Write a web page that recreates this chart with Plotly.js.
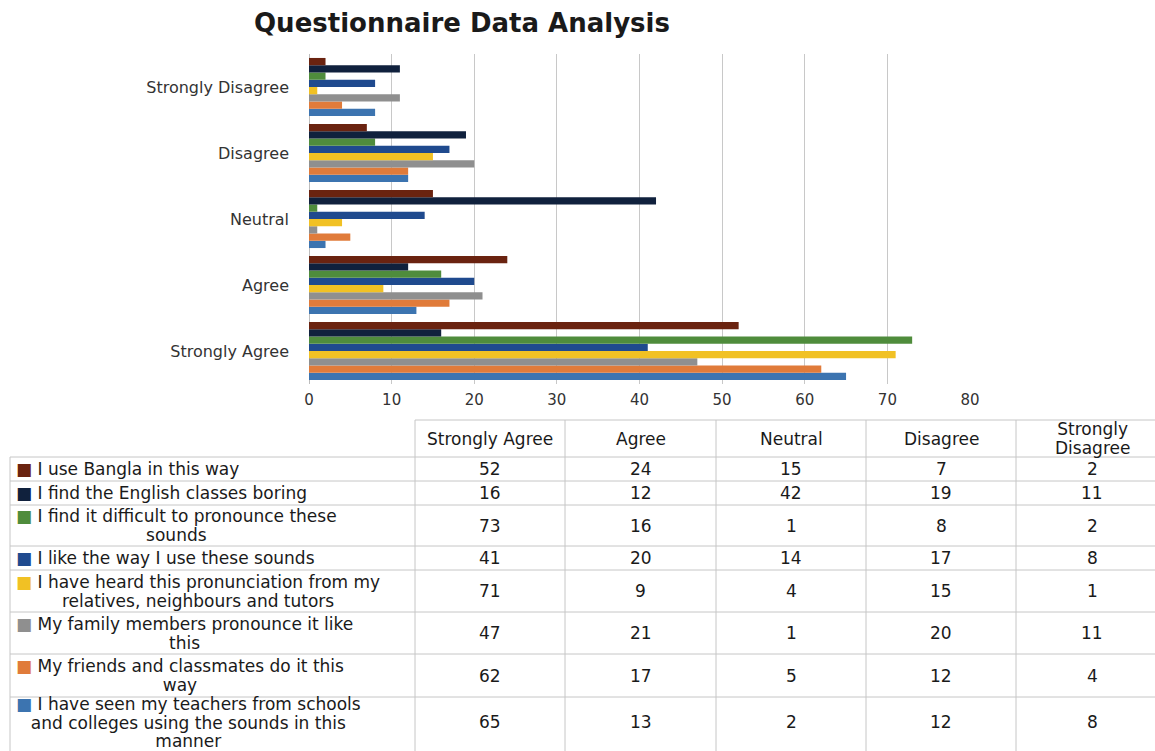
<!DOCTYPE html>
<html>
<head>
<meta charset="utf-8">
<script src="https://cdn.plot.ly/plotly-3.0.1.min.js"></script>
<style>html,body{margin:0;padding:0;background:#fff;}#chart{width:1155px;height:751px;}</style>
</head>
<body>
<div id="chart"></div>
<script>
// ---- data ----
const categories = ["Strongly Agree", "Agree", "Neutral", "Disagree", "Strongly Disagree"];
const seriesNames = [
  "I use Bangla in this way",
  "I find the English classes boring",
  "I find it difficult to pronounce these<br>sounds",
  "I like the way I use these sounds",
  "I have heard this pronunciation from my<br>relatives, neighbours and tutors",
  "My family members pronounce it like<br>this",
  "My friends and classmates do it this<br>way",
  "I have seen my teachers from schools<br>and colleges using the sounds in this<br>manner"
];
const useBangla      = [52, 24, 15, 7, 2];
const englishBoring  = [16, 12, 42, 19, 11];
const difficult      = [73, 16, 1, 8, 2];
const likeWay        = [41, 20, 14, 17, 8];
const heardRelatives = [71, 9, 4, 15, 1];
const familyMembers  = [47, 21, 1, 20, 11];
const friendsMates   = [62, 17, 5, 12, 4];
const teachersSeen   = [65, 13, 2, 12, 8];
const xTicks = [0, 10, 20, 30, 40, 50, 60, 70, 80];

// ---- styling ----
const seriesValues = [useBangla, englishBoring, difficult, likeWay, heardRelatives, familyMembers, friendsMates, teachersSeen];
const seriesColors = ["#6a2310", "#10213d", "#4f8c3c", "#1f4a8e", "#f1c124", "#8f8f8f", "#e07b3a", "#3c74b0"];
const FONT = "DejaVu Sans";
const TSIZE = 17;               // glyph size in table
const LINEFONT = {family: FONT, size: 14.4, color: "#1a1a1a"};  // sets tighter line spacing
const W = 1155, H = 751;
const px = x => x / W;
const py = y => 1 - y / H;
const big = t => t.split("<br>").map(l => '<span style="font-size:' + TSIZE + 'px">' + l + '</span>').join("<br>");

// bars: first trace sits at the bottom of each group, so add in reverse
const traces = [];
for (let i = seriesValues.length - 1; i >= 0; i--) {
  traces.push({
    type: "bar",
    orientation: "h",
    name: seriesNames[i].replace(/<br>/g, " "),
    y: categories,
    x: seriesValues[i],
    marker: {color: seriesColors[i], line: {width: 0}},
    showlegend: false,
    hoverinfo: "x+name"
  });
}

// ---- data table under the chart (shapes + annotations) ----
const colEdges = [10, 415, 565, 716, 866, 1016, 1168];
const headerTop = 420;
const rowEdges = [457, 481, 505, 546, 570, 612, 654, 697, 747];
const lineColor = "#c6c6c6";
const shapes = [];
const annotations = [];
// horizontal lines
shapes.push({type: "line", xref: "paper", yref: "paper", x0: px(colEdges[1]), x1: px(colEdges[6]), y0: py(headerTop), y1: py(headerTop), line: {color: lineColor, width: 1}});
rowEdges.slice(0, -1).forEach(r => shapes.push({type: "line", xref: "paper", yref: "paper", x0: px(colEdges[0]), x1: px(colEdges[6]), y0: py(r), y1: py(r), line: {color: lineColor, width: 1}}));
// vertical lines
shapes.push({type: "line", xref: "paper", yref: "paper", x0: px(colEdges[0]), x1: px(colEdges[0]), y0: py(rowEdges[0]), y1: py(H + 20), line: {color: lineColor, width: 1}});
for (let c = 1; c < colEdges.length; c++) {
  shapes.push({type: "line", xref: "paper", yref: "paper", x0: px(colEdges[c]), x1: px(colEdges[c]), y0: py(headerTop), y1: py(H + 20), line: {color: lineColor, width: 1}});
}
// header
const headerLabels = categories.map(c => c === "Strongly Disagree" ? "Strongly<br>Disagree" : c);
headerLabels.forEach((h, c) => {
  annotations.push({xref: "paper", yref: "paper", x: px((colEdges[c + 1] + colEdges[c + 2]) / 2), y: py((headerTop + rowEdges[0]) / 2),
    text: big(h), showarrow: false, xanchor: "center", yanchor: "middle", align: "center",
    font: LINEFONT});
});
// rows
seriesNames.forEach((name, r) => {
  const yc = (rowEdges[r] + rowEdges[r + 1]) / 2;
  const lines = name.split("<br>");
  lines[0] = '<span style="color:' + seriesColors[r] + '">■</span> ' + lines[0];
  annotations.push({xref: "paper", yref: "paper", x: px(colEdges[0] + 4), y: py(yc),
    text: big(lines.join("<br>")),
    showarrow: false, xanchor: "left", yanchor: "middle", align: "center",
    font: LINEFONT});
  seriesValues[r].forEach((v, c) => {
    annotations.push({xref: "paper", yref: "paper", x: px((colEdges[c + 1] + colEdges[c + 2]) / 2), y: py(yc),
      text: big(String(v)), showarrow: false, xanchor: "center", yanchor: "middle",
      font: LINEFONT});
  });
});

const layout = {
  width: W, height: H,
  margin: {l: 0, r: 0, t: 0, b: 0},
  paper_bgcolor: "#ffffff",
  plot_bgcolor: "#ffffff",
  title: {text: "Questionnaire Data Analysis", x: 462 / W, xanchor: "center", xref: "paper",
    y: 1 - 23 / H, yref: "container", yanchor: "middle",
    font: {family: FONT, size: 26, weight: "bold", color: "#1a1a1a"}},
  barmode: "group",
  bargap: 0.12,
  bargroupgap: 0,
  xaxis: {
    domain: [px(309), px(970)],
    range: [0, 80],
    tickvals: xTicks,
    ticktext: xTicks.map(String),
    showgrid: true, gridcolor: "#c8c8c8", gridwidth: 1,
    zeroline: true, zerolinecolor: "#bdbdbd", zerolinewidth: 1,
    showline: false, ticks: "",
    ticklabelstandoff: 5,
    tickfont: {family: FONT, size: 15, color: "#333333"},
    fixedrange: true
  },
  yaxis: {
    domain: [py(384), py(54)],
    type: "category",
    categoryorder: "array",
    categoryarray: categories,
    showgrid: false, zeroline: false, showline: false, ticks: "",
    ticklabelstandoff: 19,
    tickfont: {family: FONT, size: 16, color: "#333333"},
    fixedrange: true
  },
  shapes: shapes,
  annotations: annotations
};

Plotly.newPlot("chart", traces, layout, {displayModeBar: false, staticPlot: true});
</script>
</body>
</html>
